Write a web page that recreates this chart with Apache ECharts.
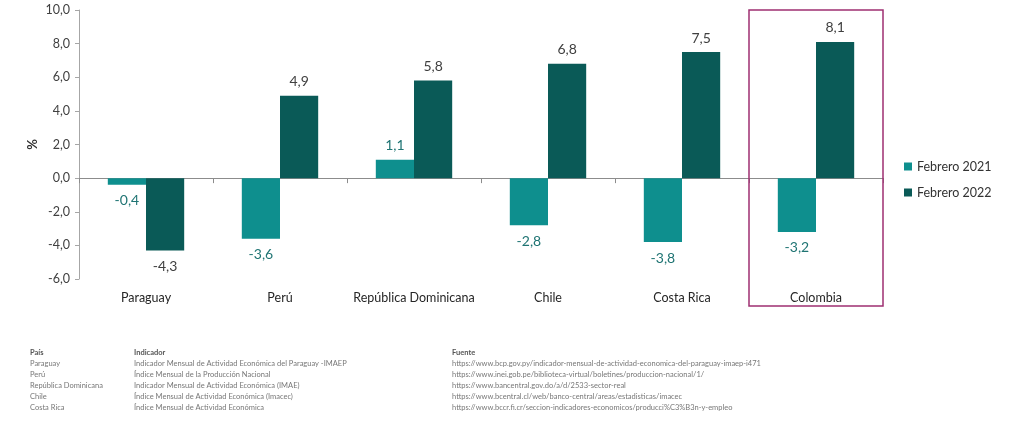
<!DOCTYPE html>
<html>
<head>
<meta charset="utf-8">
<script src="https://cdn.jsdelivr.net/npm/echarts@6/dist/echarts.min.js"></script>
<style>
html,body{margin:0;padding:0;background:#fff;}
#c{width:1024px;height:421px;}
</style>
</head>
<body>
<div id="c"></div>
<script>
const categories = ['Paraguay', 'Perú', 'República Dominicana', 'Chile', 'Costa Rica', 'Colombia'];
const seriesNames = ['Febrero 2021', 'Febrero 2022'];
const feb2021 = [-0.4, -3.6, 1.1, -2.8, -3.8, -3.2];
const feb2022 = [-4.3, 4.9, 5.8, 6.8, 7.5, 8.1];
const highlighted = 'Colombia';

const tableHeaders = ['País', 'Indicador', 'Fuente'];
const tableCountries = ['Paraguay', 'Perú', 'República Dominicana', 'Chile', 'Costa Rica'];
const tableIndicators = [
  'Indicador Mensual de Actividad Económica del Paraguay -IMAEP',
  'Índice Mensual de la Producción Nacional',
  'Indicador Mensual de Actividad Económica (IMAE)',
  'Índice Mensual de Actividad Económica (Imacec)',
  'Índice Mensual de Actividad Económica'
];
const tableSources = [
  'https://www.bcp.gov.py/indicador-mensual-de-actividad-economica-del-paraguay-imaep-i471',
  'https://www.inei.gob.pe/biblioteca-virtual/boletines/produccion-nacional/1/',
  'https://www.bancentral.gov.do/a/d/2533-sector-real',
  'https://www.bcentral.cl/web/banco-central/areas/estadisticas/imacec',
  'https://www.bccr.fi.cr/seccion-indicadores-economicos/producci%C3%B3n-y-empleo'
];

const FONT = 'Lato';
const fmt = v => v.toFixed(1).replace('.', ',');

function mkData(arr, labelColor) {
  return arr.map(v => ({
    value: v,
    label: { position: v >= 0 ? 'top' : 'bottom', distance: v >= 0 ? 7 : 9, color: labelColor }
  }));
}

const chart = echarts.init(document.getElementById('c'), null, { renderer: 'canvas' });

const tableGraphics = [];
const colX = [30, 134, 452];
const rowY0 = 354, rowStep = 11;
tableHeaders.forEach((h, i) => {
  tableGraphics.push({ type: 'text', left: colX[i], top: rowY0 - 5,
    style: { text: h, font: 'bold 7.5px ' + FONT, fill: '#555' } });
});
[tableCountries, tableIndicators, tableSources].forEach((col, ci) => {
  col.forEach((t, ri) => {
    tableGraphics.push({ type: 'text', left: colX[ci], top: rowY0 - 5 + (ri + 1) * rowStep,
      style: { text: t, font: '7.5px ' + FONT, fill: '#777' } });
  });
});

chart.setOption({
  animation: false,
  grid: { left: 79, right: 141, top: 10, bottom: 142, containLabel: false },
  legend: {
    orient: 'vertical', left: 899, top: 155, itemWidth: 8, itemHeight: 8, itemGap: 13,
    icon: 'rect',
    textStyle: { fontFamily: FONT, fontSize: 12.5, color: '#333' },
    data: seriesNames
  },
  xAxis: [
    {
      type: 'category', data: categories, position: 'bottom',
      axisLine: { show: false, onZero: false }, axisTick: { show: false },
      axisLabel: { margin: 12, fontFamily: FONT, fontSize: 12.5, color: '#262626', interval: 0 }
    },
    {
      type: 'category', data: categories, position: 'bottom',
      axisLine: { show: true, onZero: true, lineStyle: { color: '#8c8c8c', width: 1 } },
      axisTick: { show: true, length: 5, interval: 0, lineStyle: { color: '#8c8c8c' } },
      axisLabel: { show: false }
    }
  ],
  yAxis: {
    type: 'value', min: -6, max: 10, interval: 2,
    name: '%', nameLocation: 'middle', nameRotate: 90, nameGap: 40, nameMoveOverlap: false,
    nameTextStyle: { fontFamily: FONT, fontSize: 13, fontWeight: 'bold', color: '#333' },
    axisLine: { show: true, lineStyle: { color: '#a6a6a6' } },
    axisTick: { show: true, length: 4, lineStyle: { color: '#a6a6a6' } },
    splitLine: { show: false },
    axisLabel: { margin: 9, fontFamily: FONT, fontSize: 12.5, color: '#404040', formatter: v => fmt(v) }
  },
  series: [
    {
      name: seriesNames[0], type: 'bar', xAxisIndex: 0, barWidth: '28.5%', barGap: '0%',
      itemStyle: { color: '#0e8f8e' },
      label: { show: true, fontFamily: FONT, fontSize: 14, formatter: p => fmt(p.value) },
      data: mkData(feb2021, '#1f7473')
    },
    {
      name: seriesNames[1], type: 'bar', xAxisIndex: 0, barWidth: '28.5%', barGap: '0%',
      itemStyle: { color: '#0a5a57' },
      label: { show: true, fontFamily: FONT, fontSize: 14, formatter: p => fmt(p.value) },
      data: mkData(feb2022, '#404040')
    }
  ],
  graphic: tableGraphics
});

// Highlight box around the Colombia category
const idx = categories.indexOf(highlighted);
const cx = chart.convertToPixel({ xAxisIndex: 0 }, categories[idx]);
const cxPrev = chart.convertToPixel({ xAxisIndex: 0 }, categories[idx - 1]);
const band = cx - cxPrev;
const yTop = chart.convertToPixel({ yAxisIndex: 0 }, 10);
const yBot = chart.convertToPixel({ yAxisIndex: 0 }, -6);
chart.setOption({
  graphic: tableGraphics.concat([{
    type: 'rect', z: 100,
    shape: { x: cx - band / 2, y: yTop, width: band, height: (yBot - yTop) + 27 },
    style: { fill: 'none', stroke: '#9e2f72', lineWidth: 1.5 }
  }])
});
</script>
</body>
</html>
